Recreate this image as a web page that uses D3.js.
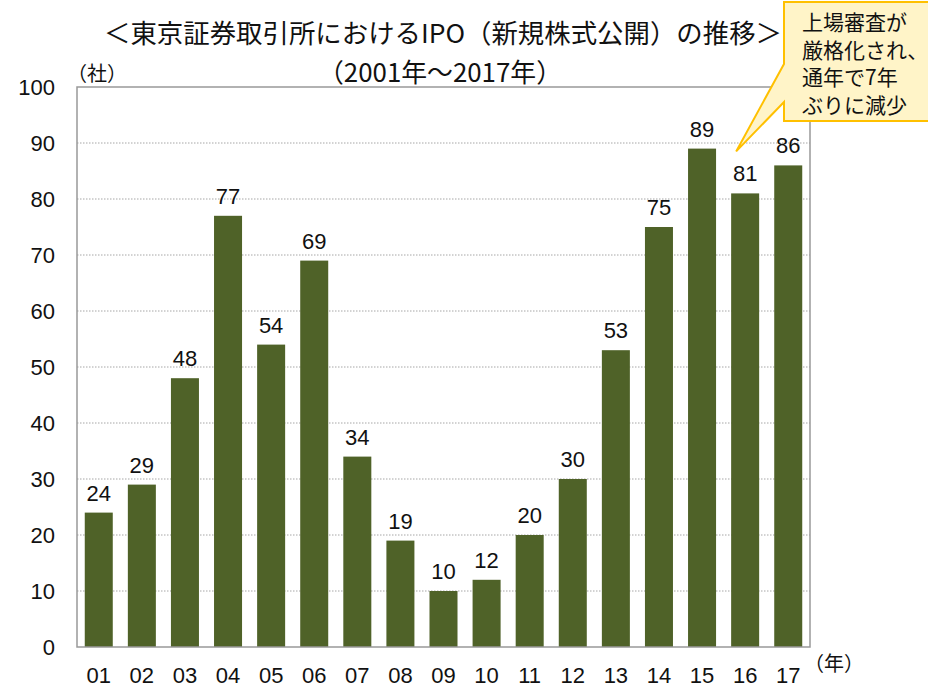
<!DOCTYPE html>
<html lang="ja">
<meta charset="utf-8">
<head>
	<title>東京証券取引所におけるIPOの推移</title>
</head>

<style type="text/css">
	body { margin: 0; background: white; }

	.title {
		font-family: "Noto Sans CJK JP", sans-serif;
		font-size: 26px;
		fill: #111;
	}

	.unit {
		font-family: "Noto Sans CJK JP", sans-serif;
		font-size: 20px;
		fill: #111;
	}

	.tick text, .valueLabel {
		font-family: "Liberation Sans", Arial, sans-serif;
		font-size: 22px;
		fill: #111;
	}

	.grid line {
		stroke: #a6a6a6;
		stroke-width: 1;
		stroke-dasharray: 1.5 1.5;
	}

	.frame {
		fill: none;
		stroke: #999;
		stroke-width: 1.5;
	}

	.bar {
		fill: #4f6228;
	}

	.callout {
		fill: #fff4c8;
		stroke: #ffc000;
		stroke-width: 2;
	}

	.calloutText {
		font-family: "Noto Sans CJK JP", sans-serif;
		font-size: 21px;
		fill: #111;
	}
</style>

<script src="https://cdn.jsdelivr.net/npm/d3@7"></script>

<body>
	<script type="text/javascript">

		// data
		var years = ["01", "02", "03", "04", "05", "06", "07", "08", "09", "10", "11", "12", "13", "14", "15", "16", "17"];
		var ipoCounts = [24, 29, 48, 77, 54, 69, 34, 19, 10, 12, 20, 30, 53, 75, 89, 81, 86];
		var yTicks = [0, 10, 20, 30, 40, 50, 60, 70, 80, 90, 100];
		var noteLines = ["上場審査が", "厳格化され、", "通年で7年", "ぶりに減少"];

		var width = 928,
			height = 687,
			plotLeft = 77,
			plotRight = 810,
			plotTop = 87,
			plotBottom = 647;

		var svg = d3.select("body")
					.append("svg")
					.attr("width", width)
					.attr("height", height);

		var x = d3.scaleBand()
				  .domain(years)
				  .range([plotLeft, plotRight])
				  .paddingInner(0.35)
				  .paddingOuter(0.18);

		var y = d3.scaleLinear()
				  .domain([0, 100])
				  .range([plotBottom, plotTop]);

		// dotted grid
		svg.append("g")
		   .attr("class", "grid")
		   .selectAll("line")
		   .data(yTicks.filter(function(d) { return d > 0 && d < 100; }))
		   .join("line")
		   .attr("x1", plotLeft)
		   .attr("x2", plotRight)
		   .attr("y1", function(d) { return y(d); })
		   .attr("y2", function(d) { return y(d); });

		// bars
		svg.selectAll(".bar")
		   .data(ipoCounts)
		   .join("rect")
		   .attr("class", "bar")
		   .attr("x", function(d, i) { return x(years[i]); })
		   .attr("width", x.bandwidth())
		   .attr("y", function(d) { return y(d); })
		   .attr("height", function(d) { return plotBottom - y(d); });

		// value labels
		svg.selectAll(".valueLabel")
		   .data(ipoCounts)
		   .join("text")
		   .attr("class", "valueLabel")
		   .attr("text-anchor", "middle")
		   .attr("x", function(d, i) { return x(years[i]) + x.bandwidth() / 2; })
		   .attr("y", function(d) { return y(d) - 12; })
		   .text(function(d) { return d; });

		// plot frame
		svg.append("rect")
		   .attr("class", "frame")
		   .attr("x", plotLeft)
		   .attr("y", plotTop)
		   .attr("width", plotRight - plotLeft)
		   .attr("height", plotBottom - plotTop);

		// axes
		var yAxis = svg.append("g")
					   .attr("transform", "translate(" + plotLeft + ",0)")
					   .call(d3.axisLeft(y).tickValues(yTicks).tickSize(0).tickPadding(22));
		yAxis.select(".domain").remove();
		yAxis.selectAll("text").attr("dy", "0.36em");

		var xAxis = svg.append("g")
					   .attr("transform", "translate(0," + plotBottom + ")")
					   .call(d3.axisBottom(x).tickSize(0).tickPadding(20));
		xAxis.select(".domain").remove();

		// units
		svg.append("text")
		   .attr("class", "unit")
		   .attr("x", 67)
		   .attr("y", 81)
		   .text("（社）");

		svg.append("text")
		   .attr("class", "unit")
		   .attr("x", 804)
		   .attr("y", 671)
		   .text("（年）");

		// title
		svg.append("text")
		   .attr("class", "title")
		   .attr("x", 104)
		   .attr("y", 43)
		   .attr("textLength", 678)
		   .attr("lengthAdjust", "spacingAndGlyphs")
		   .text("＜東京証券取引所におけるIPO（新規株式公開）の推移＞");

		svg.append("text")
		   .attr("class", "title")
		   .attr("x", 318)
		   .attr("y", 82)
		   .attr("textLength", 244)
		   .attr("lengthAdjust", "spacingAndGlyphs")
		   .text("（2001年～2017年）");

		// callout box with pointer to 2016
		var bx = 784, by = 2, bw = 160, bh = 119;
		var tipX = x("16") + x.bandwidth() / 2 - 9,
			tipY = y(81) - 42;
		var callPath = "M" + bx + "," + by +
					   "L" + (bx + bw) + "," + by +
					   "L" + (bx + bw) + "," + (by + bh) +
					   "L" + bx + "," + (by + bh) +
					   "L" + bx + "," + 102 +
					   "L" + tipX + "," + tipY +
					   "L" + bx + "," + 64 + "Z";
		svg.append("path")
		   .attr("class", "callout")
		   .attr("d", callPath);

		svg.append("g")
		   .selectAll("text")
		   .data(noteLines)
		   .join("text")
		   .attr("class", "calloutText")
		   .attr("x", 802)
		   .attr("y", function(d, i) { return 30 + i * 27.5; })
		   .text(function(d) { return d; });

	</script>
</body>
</html>
